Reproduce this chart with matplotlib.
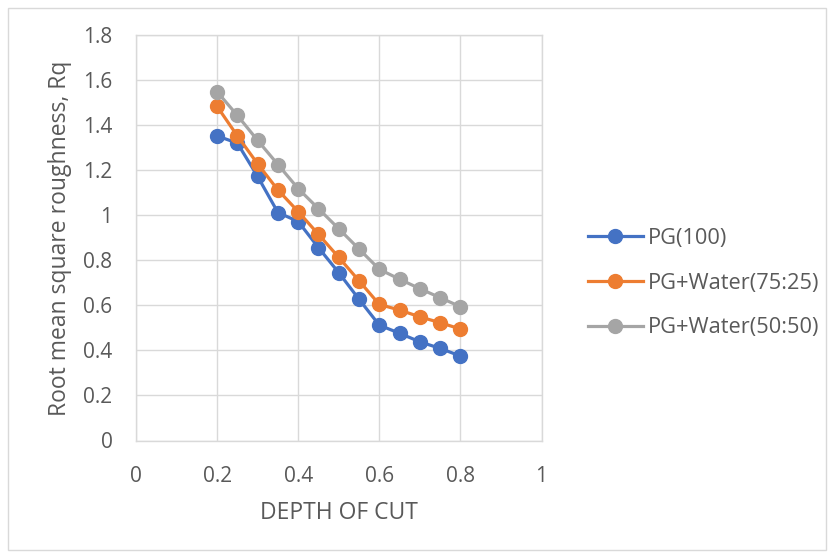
import matplotlib
matplotlib.use("Agg")
import matplotlib.pyplot as plt
from matplotlib.patches import Rectangle

depth = [0.2, 0.25, 0.3, 0.35, 0.4, 0.45, 0.5, 0.55, 0.6, 0.65, 0.7, 0.75, 0.8]
pg100 = [1.352, 1.32, 1.172, 1.012, 0.972, 0.856, 0.745, 0.627, 0.512, 0.476, 0.438, 0.409, 0.375]
pg75 = [1.483, 1.352, 1.228, 1.112, 1.016, 0.915, 0.813, 0.709, 0.604, 0.579, 0.549, 0.523, 0.495]
pg50 = [1.548, 1.443, 1.332, 1.225, 1.118, 1.029, 0.940, 0.850, 0.760, 0.716, 0.674, 0.634, 0.594]
series_names = ["PG(100)", "PG+Water(75:25)", "PG+Water(50:50)"]
colors = ["#4472C4", "#ED7D31", "#A5A5A5"]
xticks = [0, 0.2, 0.4, 0.6, 0.8, 1]
yticks = [0, 0.2, 0.4, 0.6, 0.8, 1, 1.2, 1.4, 1.6, 1.8]

plt.rcParams['font.family'] = ['Open Sans', 'DejaVu Sans']
txt = "#595959"
W, H = 835, 558
fig = plt.figure(figsize=(W / 100, H / 100), dpi=100)
fig.patches.append(Rectangle((8 / W, 8 / H), (826 - 8) / W, (550 - 8) / H,
                             transform=fig.transFigure, fill=False,
                             edgecolor="#d9d9d9", linewidth=1))

left, right = 136 / W, 541.5 / W
top, bottom = 1 - 35 / H, 1 - 440.5 / H
ax = fig.add_axes([left, bottom, right - left, top - bottom])

handles = []
for vals, name, c in zip([pg100, pg75, pg50], series_names, colors):
    h, = ax.plot(depth, vals, color=c, linewidth=2.3, marker="o",
                 markersize=10, label=name, zorder=3)
    handles.append(h)

ax.set_xlim(0, 1)
ax.set_ylim(0, 1.8)
ax.set_xticks(xticks)
ax.set_xticklabels([f"{v:g}" for v in xticks])
ax.set_yticks(yticks)
ax.set_yticklabels([f"{v:g}" for v in yticks])
ax.grid(True, color="#d9d9d9", linewidth=1)
ax.set_axisbelow(True)
for s in ax.spines.values():
    s.set_color("#d9d9d9")
    s.set_linewidth(1)
ax.tick_params(length=0, labelsize=15, labelcolor=txt)
ax.tick_params(axis="x", pad=18)
ax.tick_params(axis="y", pad=17)

fig.text(338.5 / W, 1 - 513 / H, "DEPTH OF CUT", fontsize=16.5, color=txt,
         ha="center", va="center")
fig.text(60 / W, 1 - 238 / H, "Root mean square roughness, Rq", fontsize=16.5,
         color=txt, ha="center", va="center", rotation=90)

fig.legend(handles=handles, labels=series_names, loc="center left",
           bbox_to_anchor=(588 / W, 1 - 283 / H), frameon=False,
           fontsize=15.7, labelcolor=txt, handlelength=2.5, labelspacing=1.1,
           handletextpad=0.25, borderpad=0, borderaxespad=0)

fig.savefig("out.png", dpi=100)
